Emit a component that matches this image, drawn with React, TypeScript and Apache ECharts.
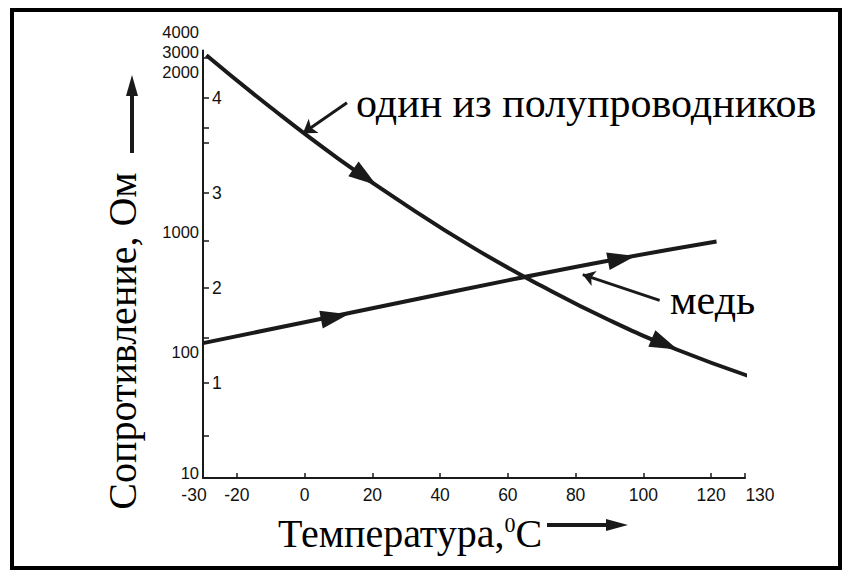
import React, { useEffect, useRef } from "react";
import * as echarts from "echarts";

// Temperature (°C) and resistance on the chart's inner (1..4) scale
const semiT = [-29, -10, 10, 30, 50, 70, 90, 110, 133];
const semiR = [4.45, 3.9, 3.36, 2.87, 2.42, 2.02, 1.66, 1.35, 1.05];
const copperT = [-30, 0, 30, 60, 90, 121.6];
const copperR = [1.42, 1.64, 1.86, 2.08, 2.29, 2.49];

const xTickValues = [-20, 0, 20, 40, 60, 80, 100, 120, 130];
const xLabelValues = [-30, -20, 0, 20, 40, 60, 80, 100, 120, 130];
const innerLabelValues = [1, 2, 3, 4];
const innerTickValues = [0.45, 1, 1.48, 2, 2.5, 3, 3.53, 3.69, 4, 4.42];
const ohmLabels = ["10", "100", "1000", "2000", "3000", "4000"];
const ohmLabelPos = [0.05, 1.33, 2.59, 4.27, 4.48, 4.69];

const INK = "#1a1a1a";
const SANS = "Liberation Sans, Arial, sans-serif";
const SERIF = "Liberation Serif, Times New Roman, serif";

export default function App() {
  const ref = useRef<HTMLDivElement>(null);
  useEffect(() => {
    if (!ref.current) return;
    const chart = echarts.init(ref.current, undefined, { renderer: "svg" });
    const semiData = semiT.map((t, i) => [t, semiR[i]]);
    const copperData = copperT.map((t, i) => [t, copperR[i]]);
    const tickFont = { fontFamily: SANS, fontSize: 17.5, color: "#111" };
    chart.setOption({
      animation: false,
      backgroundColor: "#ffffff",
      grid: [
        { left: 203, right: 105, top: 50.5, bottom: 100 },
        { left: 203, right: 105, top: 22, bottom: 100 },
      ],
      xAxis: [
        {
          type: "value",
          gridIndex: 0,
          min: -30,
          max: 130,
          splitLine: { show: false },
          axisLine: { show: true, onZero: false, lineStyle: { color: INK, width: 2 } },
          axisTick: { show: true, inside: true, length: 5, customValues: xTickValues, lineStyle: { color: INK, width: 1.5 } },
          axisLabel: {
            customValues: xLabelValues,
            ...tickFont,
            margin: 8,
            formatter: (v: number) => (v === -30 ? "{l|-30}" : v === 130 ? "{r|130}" : String(v)),
            rich: {
              l: { ...tickFont, padding: [0, 18, 0, 0] },
              r: { ...tickFont, padding: [0, 0, 0, 30] },
            },
          },
        },
        { type: "value", gridIndex: 1, min: -30, max: 130, show: false },
      ],
      yAxis: [
        {
          type: "value",
          gridIndex: 0,
          min: 0,
          max: 4.5,
          splitLine: { show: false },
          axisLine: { show: true, onZero: false, lineStyle: { color: INK, width: 2 } },
          axisTick: { show: true, inside: true, length: 6, customValues: innerTickValues, lineStyle: { color: INK, width: 1.5 } },
          axisLabel: {
            inside: true,
            customValues: innerLabelValues,
            ...tickFont,
            margin: 9,
          },
        },
        {
          type: "value",
          gridIndex: 1,
          min: 0,
          max: 4.8,
          splitLine: { show: false },
          axisLine: { show: false, onZero: false },
          axisTick: { show: false },
          axisLabel: {
            customValues: ohmLabelPos,
            fontFamily: SANS,
            fontSize: 16.5,
            color: "#111",
            lineHeight: 17,
            margin: 4,
            formatter: (v: number) => {
              const i = ohmLabelPos.findIndex((p) => Math.abs(p - v) < 1e-6);
              return i >= 0 ? ohmLabels[i] : "";
            },
          },
        },
      ],
      series: [
        {
          type: "line",
          name: "один из полупроводников",
          data: semiData,
          smooth: true,
          showSymbol: false,
          clip: false,
          lineStyle: { color: INK, width: 4 },
          markPoint: {
            silent: true,
            symbol: "triangle",
            symbolSize: [18, 28],
            itemStyle: { color: INK },
            label: { show: false },
            data: [
              { coord: [17.8, 3.17], symbolRotate: -125 },
              { coord: [106.3, 1.41], symbolRotate: -113 },
            ],
          },
          markLine: {
            silent: true,
            symbol: ["none", "arrow"],
            symbolSize: 13,
            label: { show: false },
            lineStyle: { color: INK, width: 3, type: "solid" },
            data: [[{ coord: [12.5, 3.95] }, { coord: [-0.5, 3.63] }]],
          },
        },
        {
          type: "line",
          name: "медь",
          data: copperData,
          smooth: true,
          showSymbol: false,
          clip: false,
          lineStyle: { color: INK, width: 4 },
          markPoint: {
            silent: true,
            symbol: "triangle",
            symbolSize: [18, 28],
            itemStyle: { color: INK },
            label: { show: false },
            data: [
              { coord: [8.9, 1.695], symbolRotate: -79 },
              { coord: [93.6, 2.31], symbolRotate: -79 },
            ],
          },
          markLine: {
            silent: true,
            symbol: ["none", "arrow"],
            symbolSize: 12,
            label: { show: false },
            lineStyle: { color: INK, width: 3, type: "solid" },
            data: [[{ coord: [104.8, 1.87] }, { coord: [82.1, 2.14] }]],
          },
        },
      ],
      graphic: [
        {
          type: "rect",
          shape: { x: 12, y: 10, width: 828, height: 558 },
          style: { fill: "none", stroke: "#000", lineWidth: 4 },
          silent: true,
        },
        {
          type: "text",
          x: 356,
          y: 103,
          style: { text: "один из полупроводников", font: `42px ${SERIF}`, fill: "#000", verticalAlign: "middle" },
        },
        {
          type: "text",
          x: 670,
          y: 300,
          style: { text: "медь", font: `42px ${SERIF}`, fill: "#000", verticalAlign: "middle" },
        },
        {
          type: "text",
          x: 278,
          y: 533,
          style: {
            text: "Температура,{s|0}С",
            font: `40px ${SERIF}`,
            fill: "#000",
            verticalAlign: "middle",
            rich: { s: { font: `22px ${SERIF}`, fill: "#000", verticalAlign: "top", padding: [0, 0, 18, 0] } },
          },
        },
        {
          type: "text",
          x: 122,
          y: 341,
          rotation: Math.PI / 2,
          style: { text: "Сопротивление, Ом", font: `40px ${SERIF}`, fill: "#000", align: "center", verticalAlign: "middle" },
        },
        { type: "line", shape: { x1: 132, y1: 153, x2: 132, y2: 92 }, style: { stroke: INK, lineWidth: 4 } },
        { type: "polygon", shape: { points: [[126, 96], [138, 96], [132, 75]] }, style: { fill: INK } },
        { type: "line", shape: { x1: 547, y1: 525, x2: 610, y2: 525 }, style: { stroke: INK, lineWidth: 4 } },
        { type: "polygon", shape: { points: [[606, 519], [606, 531], [628, 525]] }, style: { fill: INK } },
      ],
    });
    return () => chart.dispose();
  }, []);
  return (
    <div
      ref={ref}
      style={{ position: "absolute", left: 0, top: 0, width: 850, height: 578 }}
    />
  );
}
